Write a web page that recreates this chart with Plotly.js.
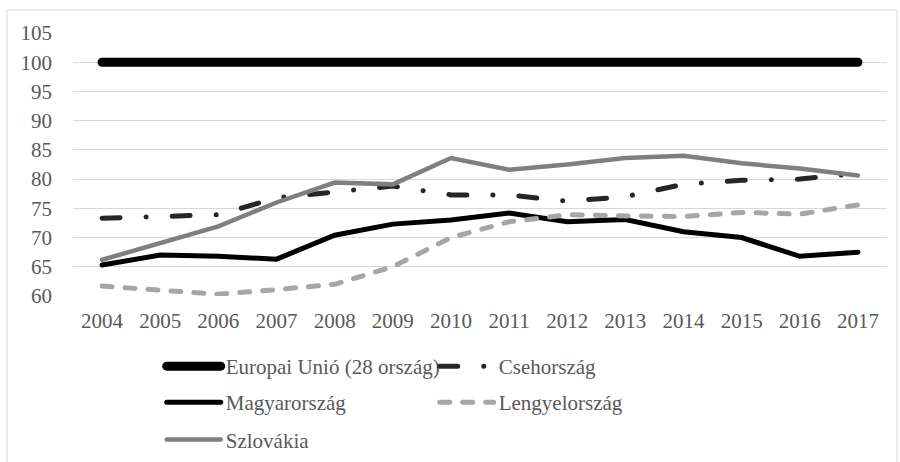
<!DOCTYPE html>
<html>
<head>
<meta charset="utf-8">
<script src="https://cdn.plot.ly/plotly-3.0.1.min.js"></script>
<style>
html,body{margin:0;padding:0;background:#fff;}
#chart{width:900px;height:462px;}
#chart path.js-line{stroke-linecap:round;}
</style>
</head>
<body>
<div id="chart"></div>
<script>
const years = ["2004","2005","2006","2007","2008","2009","2010","2011","2012","2013","2014","2015","2016","2017"];
const eu = [100,100,100,100,100,100,100,100,100,100,100,100,100,100];
const cseh = [73.3,73.7,73.9,76.8,77.7,78.8,77.3,77.3,76.2,77.0,79.1,79.8,80.0,81.0];
const magyar = [65.3,67.0,66.8,66.3,70.4,72.3,73.0,74.2,72.7,73.1,71.0,70.0,66.8,67.5];
const lengyel = [61.7,61.0,60.3,61.1,62.0,65.0,70.0,72.7,73.9,73.7,73.6,74.3,74.0,75.6];
const szlovak = [66.2,69.1,71.9,76.0,79.4,79.1,83.6,81.6,82.5,83.6,84.0,82.7,81.8,80.6];
const names = ["Europai Unió (28 ország)","Csehország","Magyarország","Lengyelország","Szlovákia"];

const font = {family: "'Liberation Serif', 'Times New Roman', 'DejaVu Serif', serif", size: 21, color: "#595959"};

const traces = [
  {x: years, y: eu, name: names[0], mode: "lines", line: {color: "#000000", width: 9}, legend: "legend"},
  {x: years, y: cseh, name: names[1], mode: "lines", line: {color: "#262626", width: 5, dash: "18px,26px,0.1px,26px"}, legend: "legend"},
  {x: years, y: magyar, name: names[2], mode: "lines", line: {color: "#000000", width: 5}, legend: "legend2"},
  {x: years, y: lengyel, name: names[3], mode: "lines", line: {color: "#a6a6a6", width: 5, dash: "10px,13px"}, legend: "legend2"},
  {x: years, y: szlovak, name: names[4], mode: "lines", line: {color: "#7f7f7f", width: 4.5}, legend: "legend3"}
];

const legBase = {orientation: "h", xanchor: "left", yanchor: "middle", x: 0.109,
  entrywidth: 204, entrywidthmode: "pixels", itemwidth: 54, font: font,
  bgcolor: "rgba(0,0,0,0)", itemclick: false, traceorder: "normal"};

const layout = {
  width: 900, height: 462,
  margin: {l: 73, r: 13, t: 33, b: 166, autoexpand: false},
  paper_bgcolor: "#ffffff", plot_bgcolor: "#ffffff",
  font: font,
  showlegend: true,
  legend: Object.assign({}, legBase, {y: -0.268}),
  legend2: Object.assign({}, legBase, {y: -0.405}),
  legend3: Object.assign({}, legBase, {y: -0.547}),
  xaxis: {type: "category", range: [-0.5, 13.5], showgrid: false, zeroline: false, showline: false,
    ticks: "", ticklabelstandoff: 10, tickfont: font, fixedrange: true},
  yaxis: {range: [60, 105], dtick: 5, tick0: 60, showgrid: true, gridcolor: "#d9d9d9", gridwidth: 1,
    zeroline: false, showline: false, ticks: "", ticklabelstandoff: 20, tickfont: font, fixedrange: true},
  shapes: [{type: "rect", xref: "paper", yref: "paper", x0: -0.0811, x1: 1.0123, y0: -0.66, y1: 1.0875,
    line: {color: "#d9d9d9", width: 1}, fillcolor: "rgba(0,0,0,0)", layer: "below"}]
};

Plotly.newPlot("chart", traces, layout, {displayModeBar: false, staticPlot: true});
</script>
</body>
</html>
